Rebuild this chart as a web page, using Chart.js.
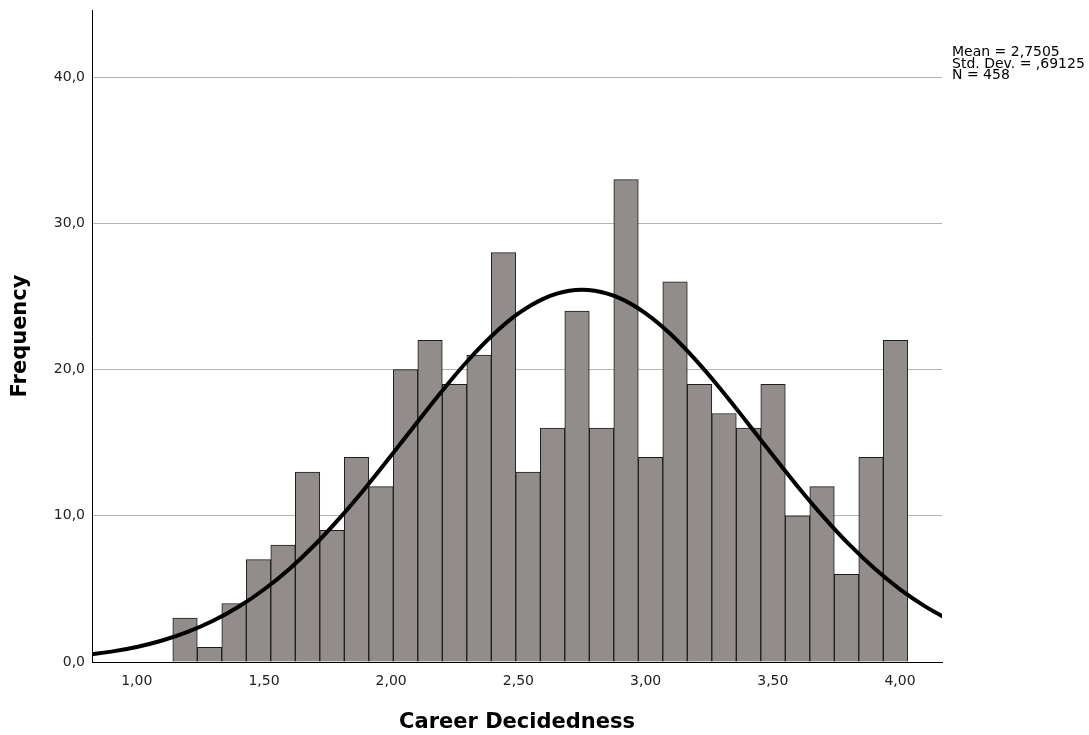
<!DOCTYPE html>
<html lang="en">
<head>
  <meta charset="UTF-8">
  <title>Career Decidedness</title>
  <script src="https://cdn.jsdelivr.net/npm/chart.js"></script>
  <style>
    body { margin: 0; background: #fff; }
    canvas { display: block; }
  </style>
</head>
<body>
  <canvas id="histo" width="1089" height="735"></canvas>

<script>
  // bin centres (bin width about 0.0963) and counts per bin
  const binCentres = [1.1897, 1.2860, 1.3823, 1.4786, 1.5749, 1.6712, 1.7675, 1.8638, 1.9601, 2.0564,
    2.1527, 2.2490, 2.3453, 2.4416, 2.5379, 2.6342, 2.7305, 2.8268, 2.9231, 3.0194,
    3.1157, 3.2120, 3.3083, 3.4046, 3.5009, 3.5972, 3.6935, 3.7898, 3.8861, 3.9824];
  const counts = [3, 1, 4, 7, 8, 13, 9, 14, 12, 20,
    22, 19, 21, 28, 13, 16, 24, 16, 33, 14,
    26, 19, 17, 16, 19, 10, 12, 6, 14, 22];

  // normal curve
  const curveX = [0.8, 0.9, 1.0, 1.1, 1.2, 1.3, 1.4, 1.5, 1.6, 1.7, 1.8, 1.9, 2.0, 2.1, 2.2, 2.3, 2.4,
    2.5, 2.6, 2.7, 2.8, 2.9, 3.0, 3.1, 3.2, 3.3, 3.4, 3.5, 3.6, 3.7, 3.8, 3.9, 4.0, 4.1, 4.2];
  const curveY = [0.48, 0.71, 1.03, 1.47, 2.06, 2.82, 3.78, 4.96, 6.37, 8.02, 9.89, 11.94, 14.12, 16.35, 18.54, 20.59, 22.38,
    23.84, 24.86, 25.39, 25.39, 24.87, 23.85, 22.40, 20.60, 18.56, 16.37, 14.14, 11.96, 9.91, 8.04, 6.39, 4.97, 3.79, 2.82];

  const xTicks = [1.0, 1.5, 2.0, 2.5, 3.0, 3.5, 4.0];
  const yTicks = [0, 10, 20, 30, 40];

  const statsLines = ['Mean = 2,7505', 'Std. Dev. = ,69125', 'N = 458'];

  const xTitle = 'Career Decidedness';
  const yTitle = 'Frequency';

  const statsBox = {
    id: 'statsBox',
    afterDraw(chart) {
      const ctx = chart.ctx;
      ctx.save();
      ctx.fillStyle = '#000';
      ctx.font = '14px "DejaVu Sans"';
      ctx.textBaseline = 'alphabetic';
      statsLines.forEach((t, i) => {
        ctx.fillText(t, 952, 56 + i * 11.5);
      });
      ctx.restore();
    }
  };

  const histo = new Chart(document.getElementById('histo'), {
    type: 'bar',
    data: {
      datasets: [{
        type: 'line',
        data: curveX.map((x, i) => ({ x: x, y: curveY[i] })),
        borderColor: '#000',
        borderWidth: 4,
        pointRadius: 0,
        tension: 0.4,
        fill: false,
        order: 0
      }, {
        type: 'bar',
        data: binCentres.map((x, i) => ({ x: x, y: counts[i] })),
        backgroundColor: '#928d8b',
        borderColor: '#1c1c1c',
        borderWidth: 1,
        barPercentage: 1,
        categoryPercentage: 1,
        order: 1
      }]
    },
    options: {
      responsive: false,
      animation: false,
      events: [],
      layout: { padding: { top: 10, right: 147, left: 0, bottom: 0 } },
      plugins: { legend: { display: false }, tooltip: { enabled: false } },
      scales: {
        x: {
          type: 'linear',
          offset: false,
          bounds: 'data',
          min: 0.824,
          max: 4.165,
          afterFit: s => { s.height = 73; s.paddingLeft = 0; s.paddingRight = 0; },
          afterBuildTicks: s => { s.ticks = xTicks.map(v => ({ value: v })); },
          grid: { display: false, drawTicks: false, offset: false },
          border: { display: true, color: '#000', width: 1 },
          ticks: {
            autoSkip: false,
            maxRotation: 0,
            padding: 11,
            color: '#222',
            font: { family: 'DejaVu Sans', size: 14 },
            callback: v => v.toFixed(2).replace('.', ',')
          },
          title: {
            display: true,
            text: xTitle,
            color: '#000',
            font: { family: 'DejaVu Sans', size: 21, weight: 'bold' },
            padding: { top: 0, bottom: 0 }
          }
        },
        y: {
          bounds: 'data',
          min: 0,
          max: 44.6,
          afterFit: s => { s.width = 92; s.paddingTop = 0; s.paddingBottom = 0; },
          afterBuildTicks: s => { s.ticks = yTicks.map(v => ({ value: v })); },
          grid: {
            drawTicks: false,
            color: c => (c.tick && c.tick.value === 0) ? 'rgba(0,0,0,0)' : '#b4b4b4',
            lineWidth: 1
          },
          border: { display: true, color: '#000', width: 1 },
          ticks: {
            padding: 7,
            color: '#222',
            font: { family: 'DejaVu Sans', size: 14 },
            callback: v => v.toFixed(1).replace('.', ',')
          },
          title: {
            display: true,
            text: yTitle,
            color: '#000',
            font: { family: 'DejaVu Sans', size: 21, weight: 'bold' },
            padding: { top: 8, bottom: 0 }
          }
        }
      }
    },
    plugins: [statsBox]
  });
</script>
</body>
</html>
